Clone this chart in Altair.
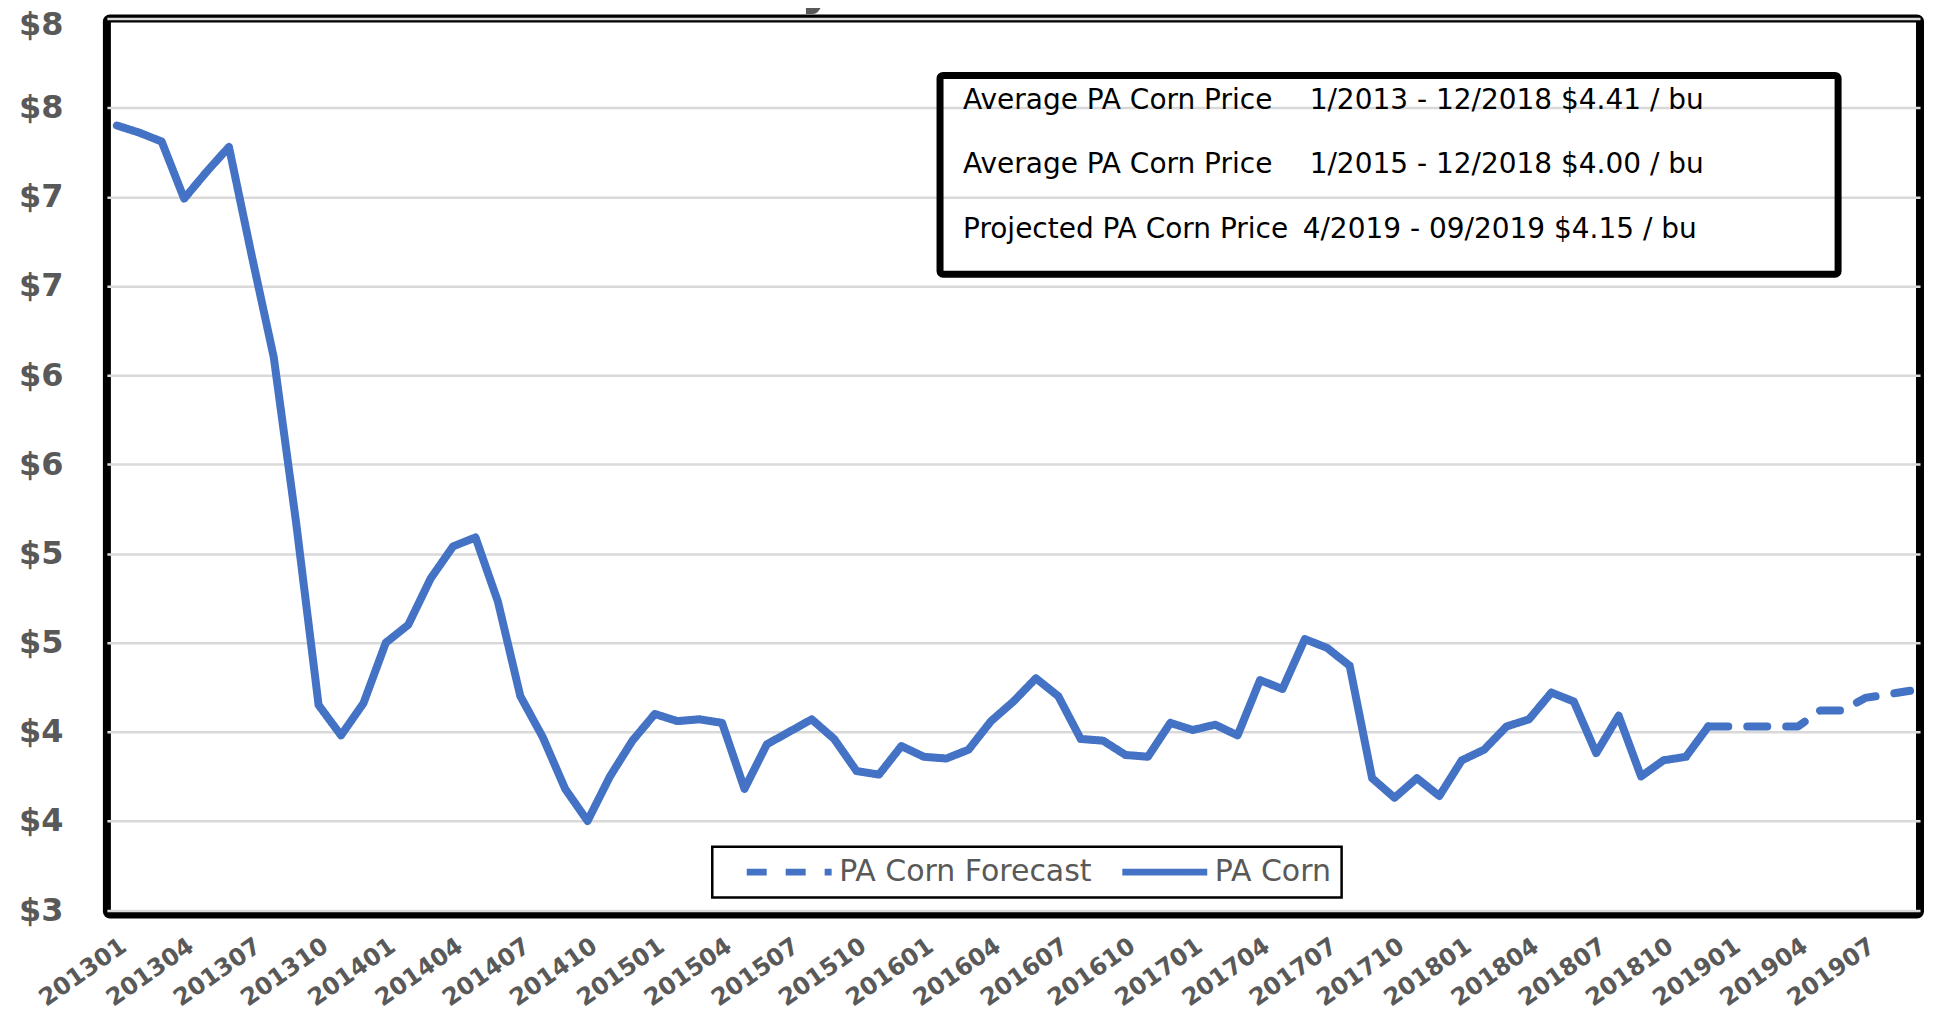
import altair as alt
import pandas as pd

# ---------------- data ----------------
months = [f"{y}{m:02d}" for y in range(2013, 2020) for m in range(1, 13)][:81]

pa_corn = [
    7.40, 7.36, 7.31, 6.99, 7.14, 7.28, 6.68, 6.10, 5.17, 4.15, 3.98, 4.16,   # 2013
    4.50, 4.60, 4.86, 5.04, 5.09, 4.73, 4.20, 3.97, 3.68, 3.50, 3.75, 3.95,   # 2014
    4.10, 4.06, 4.07, 4.05, 3.68, 3.93, 4.00, 4.07, 3.96, 3.78, 3.76, 3.92,   # 2015
    3.86, 3.85, 3.90, 4.06, 4.17, 4.30, 4.20, 3.96, 3.95, 3.87, 3.86, 4.05,   # 2016
    4.01, 4.04, 3.98, 4.29, 4.24, 4.52, 4.47, 4.37, 3.74, 3.63, 3.74, 3.64,   # 2017
    3.84, 3.90, 4.03, 4.07, 4.22, 4.17, 3.88, 4.09, 3.75, 3.84, 3.86, 4.03,   # 2018
]
# forecast: 201812 .. 201909
pa_corn_forecast = [4.03, 4.03, 4.03, 4.03, 4.03, 4.12, 4.12, 4.19, 4.21, 4.23]

series_names = ["PA Corn Forecast", "PA Corn"]

x_tick_labels = [
    "201301", "201304", "201307", "201310", "201401", "201404", "201407",
    "201410", "201501", "201504", "201507", "201510", "201601", "201604",
    "201607", "201610", "201701", "201704", "201707", "201710", "201801",
    "201804", "201807", "201810", "201901", "201904", "201907",
]
y_ticks = [3.0, 3.5, 4.0, 4.5, 5.0, 5.5, 6.0, 6.5, 7.0, 7.5, 8.0]

chart_title = "Pennsylvania Corn"
note_labels = ["Average PA Corn Price", "Average PA Corn Price", "Projected PA Corn Price"]
note_ranges = ["1/2013 - 12/2018 $4.41 / bu", "1/2015 - 12/2018 $4.00 / bu", "4/2019 - 09/2019 $4.15 / bu"]

# ---------------- frame ----------------
rows = [{"month": m, "price": v, "series": "PA Corn"} for m, v in zip(months, pa_corn)]
rows += [{"month": m, "price": v, "series": "PA Corn Forecast"}
         for m, v in zip(months[len(pa_corn) - 1:], pa_corn_forecast)]
df = pd.DataFrame(rows)

W, H = 1815, 897
GRAY = "#595959"
BLUE = "#4472C4"
FONT = "DejaVu Sans"

legend = alt.Legend(
    title=None, orient="none", legendX=606, legendY=829, direction="horizontal",
    labelFont=FONT, labelFontSize=30, labelColor=GRAY, labelOffset=4, labelLimit=600,
    symbolType="stroke", symbolSize=7225, symbolStrokeWidth=7, symbolOffset=21,
    clipHeight=31, columnPadding=6, padding=10, strokeColor="black",
)

lines = alt.Chart(df).mark_line(strokeWidth=8, strokeCap="round", strokeJoin="round").encode(
    x=alt.X("month:O", sort=months,
            scale=alt.Scale(type="point", padding=0.445),
            axis=alt.Axis(values=x_tick_labels, labelAngle=-35, labelAlign="right",
                          labelBaseline="top", labelFont=FONT, labelFontWeight="bold",
                          labelFontSize=24, labelColor=GRAY, labelPadding=19,
                          ticks=False, domain=False, grid=False, labelOverlap=False,
                          labelBound=False, title=None)),
    y=alt.Y("price:Q", scale=alt.Scale(domain=[2.975, 8], nice=False, zero=False),
            axis=alt.Axis(values=y_ticks, format="$.0f", labelFont=FONT,
                          labelFontWeight="bold", labelFontSize=32, labelColor=GRAY,
                          labelPadding=44, ticks=False, domain=False, grid=True,
                          labelOffset={"condition": {"test": "datum.value >= 8", "value": 6},
                                       "value": 0},
                          gridColor="#d9d9d9", gridWidth=2.5, labelOverlap=False,
                          labelBound=False, labelFlush=False, title=None)),
    color=alt.Color("series:N", scale=alt.Scale(domain=series_names, range=[BLUE, BLUE]),
                    legend=legend),
    strokeDash=alt.StrokeDash("series:N",
                              scale=alt.Scale(domain=series_names, range=[[20, 19], [1, 0]]),
                              legend=legend),
)

one = pd.DataFrame({"k": [0]})

box = alt.Chart(one).mark_rect(fill="transparent", stroke="black", strokeWidth=7,
                               cornerRadius=3).encode(
    x=alt.value(834), x2=alt.value(1733), y=alt.value(57), y2=alt.value(256))

layers = [lines, box]
note_y = [91, 155, 220]
range_x = [1204, 1204, 1197]
for i in range(3):
    layers.append(alt.Chart(pd.DataFrame({"t": [note_labels[i]]})).mark_text(
        font=FONT, fontSize=28, color="black", align="left", baseline="alphabetic").encode(
        x=alt.value(857), y=alt.value(note_y[i]), text="t:N"))
    layers.append(alt.Chart(pd.DataFrame({"t": [note_ranges[i]]})).mark_text(
        font=FONT, fontSize=28, color="black", align="left", baseline="alphabetic").encode(
        x=alt.value(range_x[i]), y=alt.value(note_y[i]), text="t:N"))

layers.append(alt.Chart(pd.DataFrame({"t": [chart_title]})).mark_text(
    font=FONT, fontWeight="bold", fontSize=52, color=GRAY, align="center",
    baseline="alphabetic").encode(x=alt.value(788), y=alt.value(-16), text="t:N"))

chart = alt.layer(*layers).properties(
    width=W, height=H,
    autosize=alt.AutoSizeParams(type="none"),
    padding={"left": 99, "top": 10, "right": 6, "bottom": 97},
).configure_view(stroke="black", strokeWidth=8, cornerRadius=3).configure_legend(
    strokeWidth=2.5)

chart.save("out.html", embed_options={"renderer": "svg", "actions": False})
